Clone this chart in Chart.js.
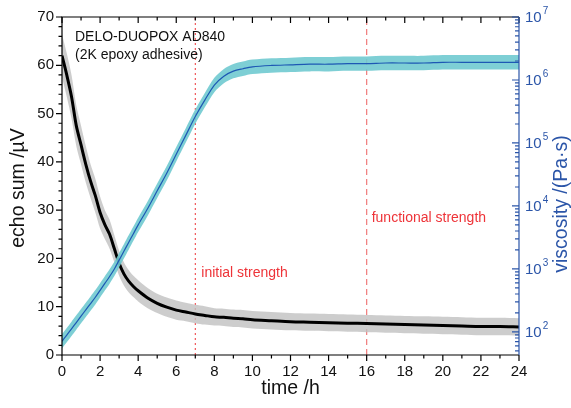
<!DOCTYPE html>
<html>
<head>
<meta charset="utf-8">
<script src="https://cdn.jsdelivr.net/npm/chart.js@4.4.0/dist/chart.umd.min.js"></script>
<style>
  html, body { margin: 0; padding: 0; background: #fff; }
  #wrap { width: 571px; height: 408px; }
</style>
</head>
<body>
<div id="wrap"><canvas id="chart" width="571" height="408"></canvas></div>
<script>
// time axis /h
const hours = [0, 0.25, 0.5, 0.75, 1, 1.25, 1.5, 1.75, 2, 2.25, 2.5, 2.75, 3, 3.25, 3.5, 3.75, 4,
  4.5, 5, 5.5, 6, 6.5, 7, 7.5, 8, 8.5, 9, 9.5, 10, 11, 12, 13, 14, 15, 16, 17, 18, 19, 20, 21, 22, 23, 24];

// echo sum /µV and its scatter
const echoSum = [62.0, 58.0, 53.5, 47.5, 43.5, 39.5, 36.0, 33.0, 29.5, 27.0, 25.0, 22.0, 19.0, 16.8, 15.3, 14.2, 13.3,
  11.8, 10.7, 9.9, 9.3, 8.9, 8.5, 8.2, 7.9, 7.8, 7.6, 7.5, 7.3, 7.1, 6.9, 6.8, 6.7, 6.6, 6.5, 6.4, 6.3, 6.2, 6.1, 6.0, 5.9, 5.9, 5.8];
const echoErr = [4.5, 4.5, 4.5, 4.2, 4.0, 3.8, 3.5, 3.5, 3.3, 3.0, 3.0, 2.8, 2.6, 2.4, 2.3, 2.2, 2.2,
  2.1, 2.0, 2.0, 2.0, 1.9, 1.9, 1.9, 1.8, 1.8, 1.8, 1.8, 1.8, 1.8, 1.8, 1.8, 1.8, 1.8, 1.8, 1.8, 1.8, 1.8, 1.8, 1.8, 1.8, 1.8, 1.8];

// viscosity /(Pa·s)
const viscosity = [71, 89, 112, 141, 178, 224, 282, 355, 457, 589, 759, 1000, 1380, 1905, 2630, 3630, 5010,
  9120, 17400, 33100, 66100, 132000, 263000, 479000, 832000, 1150000, 1380000, 1510000, 1620000, 1700000, 1740000,
  1780000, 1780000, 1820000, 1820000, 1860000, 1860000, 1860000, 1910000, 1910000, 1910000, 1910000, 1910000];
const viscSpread = 1.3;

const hourTicks = [0, 2, 4, 6, 8, 10, 12, 14, 16, 18, 20, 22, 24];
const echoTicks = [0, 10, 20, 30, 40, 50, 60, 70];
const viscExponents = [2, 3, 4, 5, 6, 7];

const initialStrengthT = 7;
const functionalStrengthT = 16;

const FONT = '"Liberation Sans", Arial, sans-serif';
const BLUE = "#2b55a8";
const RED = "#ee3338";

const pts = (ys) => hours.map((h, i) => ({ x: h, y: ys[i] }));

const axesPlugin = {
  id: "axes",
  afterDraw(chart) {
    const ctx = chart.ctx;
    const a = chart.chartArea;
    const sx = chart.scales.x, sy = chart.scales.y, sv = chart.scales.v;
    ctx.save();

    // frame
    ctx.lineWidth = 1.2;
    ctx.strokeStyle = "#000";
    ctx.beginPath();
    ctx.moveTo(a.right, a.top); ctx.lineTo(a.left, a.top); ctx.lineTo(a.left, a.bottom); ctx.lineTo(a.right, a.bottom);
    ctx.stroke();

    // time ticks, bottom (outside) and top (inside)
    ctx.beginPath();
    for (let h = 0; h <= 24; h++) {
      const x = sx.getPixelForValue(h);
      const len = h % 2 === 0 ? 6 : 3.5;
      ctx.moveTo(x, a.bottom); ctx.lineTo(x, a.bottom + len);
      ctx.moveTo(x, a.top); ctx.lineTo(x, a.top + len);
    }
    // echo ticks, left
    for (let v = 0; v <= 70; v += 2) {
      const y = sy.getPixelForValue(v);
      ctx.moveTo(a.left, y); ctx.lineTo(a.left - (v % 10 === 0 ? 6 : 3.5), y);
    }
    ctx.stroke();

    // viscosity axis, right
    ctx.strokeStyle = BLUE;
    ctx.beginPath();
    ctx.moveTo(a.right, a.top); ctx.lineTo(a.right, a.bottom);
    for (let e = 1; e <= 7; e++) {
      for (let m = 1; m <= 9; m++) {
        const val = m * Math.pow(10, e);
        if (val < sv.min || val > sv.max) continue;
        const y = sv.getPixelForValue(val);
        ctx.moveTo(a.right, y); ctx.lineTo(a.right - (m === 1 ? 7 : 4), y);
      }
    }
    ctx.stroke();

    // tick labels
    ctx.fillStyle = "#111";
    ctx.font = "15px " + FONT;
    ctx.textAlign = "center";
    ctx.textBaseline = "top";
    hourTicks.forEach((h) => ctx.fillText(String(h), sx.getPixelForValue(h), a.bottom + 9));
    ctx.textAlign = "right";
    ctx.textBaseline = "middle";
    echoTicks.forEach((v) => ctx.fillText(String(v), a.left - 8, sy.getPixelForValue(v)));

    ctx.fillStyle = BLUE;
    ctx.textAlign = "left";
    viscExponents.forEach((e) => {
      const y = sv.getPixelForValue(Math.pow(10, e));
      ctx.font = "15px " + FONT;
      ctx.textBaseline = "middle";
      ctx.fillText("10", a.right + 6, y + 1);
      const w = ctx.measureText("10").width;
      ctx.font = "10px " + FONT;
      ctx.fillText(String(e), a.right + 6 + w + 1, y - 6);
    });

    // axis titles
    ctx.font = "19.5px " + FONT;
    ctx.fillStyle = "#111";
    ctx.textAlign = "center";
    ctx.textBaseline = "middle";
    ctx.fillText("time /h", (a.left + a.right) / 2, 389);

    ctx.save();
    ctx.translate(19, 188);
    ctx.rotate(-Math.PI / 2);
    ctx.fillText("echo sum /µV", 0, 0);
    ctx.restore();

    ctx.save();
    ctx.fillStyle = BLUE;
    ctx.translate(562, 204);
    ctx.rotate(-Math.PI / 2);
    ctx.fillText("viscosity /(Pa·s)", 0, 0);
    ctx.restore();

    // annotations
    ctx.textAlign = "left";
    ctx.textBaseline = "alphabetic";
    ctx.font = "14px " + FONT;
    ctx.fillStyle = "#111";
    ctx.fillText("DELO-DUOPOX AD840", 75, 41);
    ctx.fillText("(2K epoxy adhesive)", 75, 59);
    ctx.fillStyle = RED;
    ctx.fillText("initial strength", sx.getPixelForValue(initialStrengthT) + 6, 277);
    ctx.fillText("functional strength", sx.getPixelForValue(functionalStrengthT) + 5, 222);

    ctx.restore();
  }
};

const ctx = document.getElementById("chart").getContext("2d");

new Chart(ctx, {
  type: "line",
  data: {
    datasets: [
      {
        data: pts(viscosity), yAxisID: "v", order: 0,
        borderColor: "#1d58b4", borderWidth: 1.2, pointRadius: 0, tension: 0.3,
      },
      {
        data: pts(viscosity.map((v) => v * viscSpread)), yAxisID: "v", order: 1,
        borderColor: "rgba(0,0,0,0)", borderWidth: 0, pointRadius: 0, tension: 0.3,
        fill: "+1", backgroundColor: "rgba(112,202,208,0.9)",
      },
      {
        data: pts(viscosity.map((v) => v / viscSpread)), yAxisID: "v", order: 2,
        borderColor: "rgba(0,0,0,0)", borderWidth: 0, pointRadius: 0, tension: 0.3,
      },
      {
        data: pts(echoSum), yAxisID: "y", order: 3,
        borderColor: "#000", borderWidth: 3, pointRadius: 0, tension: 0.3,
      },
      {
        data: pts(echoSum.map((v, i) => v + echoErr[i])), yAxisID: "y", order: 4,
        borderColor: "rgba(0,0,0,0)", borderWidth: 0, pointRadius: 0, tension: 0.3,
        fill: "+1", backgroundColor: "rgba(192,192,192,0.8)",
      },
      {
        data: pts(echoSum.map((v, i) => v - echoErr[i])), yAxisID: "y", order: 5,
        borderColor: "rgba(0,0,0,0)", borderWidth: 0, pointRadius: 0, tension: 0.3,
      },
      {
        data: [{ x: initialStrengthT, y: 0 }, { x: initialStrengthT, y: 70 }], yAxisID: "y", order: 6,
        borderColor: RED, borderWidth: 1, borderDash: [2, 3], pointRadius: 0,
      },
      {
        data: [{ x: functionalStrengthT, y: 0 }, { x: functionalStrengthT, y: 70 }], yAxisID: "y", order: 7,
        borderColor: "#f07a7a", borderWidth: 1.2, borderDash: [6, 4], pointRadius: 0,
      },
    ],
  },
  options: {
    responsive: false,
    devicePixelRatio: 1,
    animation: false,
    layout: { padding: { left: 62, right: 52, top: 17, bottom: 53 } },
    plugins: { legend: { display: false }, tooltip: { enabled: false } },
    scales: {
      x: { type: "linear", min: 0, max: 24, display: false },
      y: { type: "linear", min: 0, max: 70, display: false },
      v: { type: "logarithmic", position: "right", min: 43, max: 1e7, display: false },
    },
  },
  plugins: [axesPlugin],
});
</script>
</body>
</html>
